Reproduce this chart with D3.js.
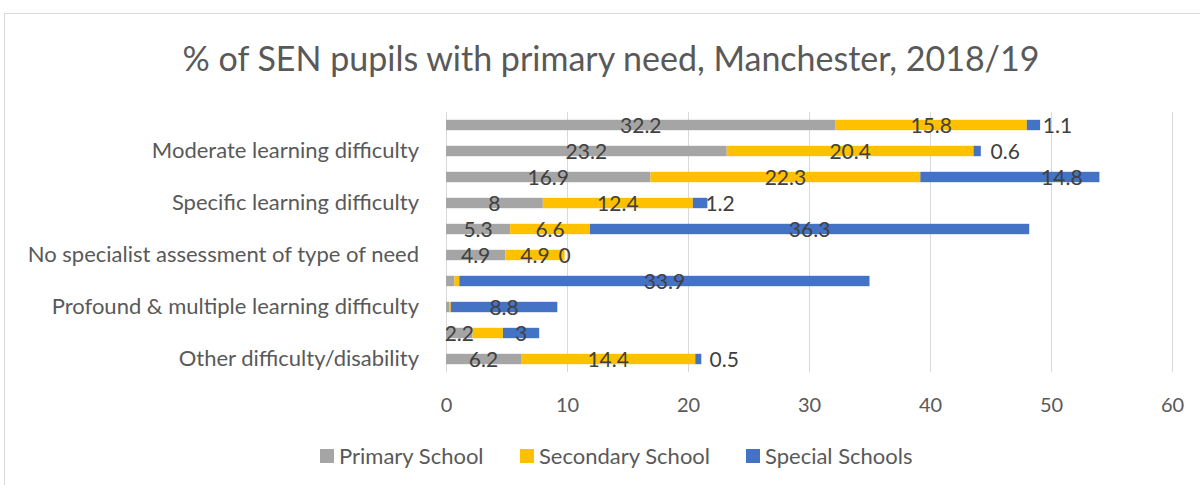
<!DOCTYPE html>
<html>
<head>
<meta charset="utf-8">
<script src="https://cdn.jsdelivr.net/npm/d3@7"></script>
<style>
  html, body { margin: 0; padding: 0; background: #fff; }
  svg { display: block; font-family: Lato, "Open Sans", sans-serif; }
</style>
</head>
<body>
<svg id="chart" width="1200" height="485"></svg>
<script>
const categories = [
  "Speech, language and communication needs",
  "Moderate learning difficulty",
  "Social, emotional and mental health",
  "Specific learning difficulty",
  "Autistic spectrum disorder",
  "No specialist assessment of type of need",
  "Severe learning difficulty",
  "Profound & multiple learning difficulty",
  "Physical disability",
  "Other difficulty/disability"
];
const seriesNames = ["Primary School", "Secondary School", "Special Schools"];
const seriesColors = ["#a5a5a5", "#ffc000", "#4472c4"];

const primary   = [32.2, 23.2, 16.9, 8,    5.3, 4.9, 0.7,  0.3, 2.2, 6.2];
const secondary = [15.8, 20.4, 22.3, 12.4, 6.6, 4.9, 0.4,  0.1, 2.5, 14.4];
const special   = [1.1,  0.6,  14.8, 1.2, 36.3, 0,   33.9, 8.8, 3,   0.5];

// which labels the original chart shows (true = shown)
const showPrimary   = [true, true, true, true, true, true, false, false, true, true];
const showSecondary = [true, true, true, true, true, true, false, false, false, true];
const showSpecial   = [true, true, true, true, true, true, true, true, true, true];

const xTicks = [0, 10, 20, 30, 40, 50, 60];

const svg = d3.select("#chart");
const M = { top: 112, left: 446, right: 28, bottom: 113 };
const W = 1172 - M.left;
const H = 260;

// chart frame
svg.append("rect")
  .attr("x", 4.5).attr("y", 13.5)
  .attr("width", 1200).attr("height", 480)
  .attr("fill", "#fff").attr("stroke", "#d9d9d9");

svg.append("text")
  .attr("x", 611).attr("y", 71)
  .attr("text-anchor", "middle")
  .attr("fill", "#595959")
  .style("font-size", "34px")
  .text("% of SEN pupils with primary need, Manchester, 2018/19");

const g = svg.append("g").attr("transform", `translate(${M.left},${M.top})`);

const x = d3.scaleLinear().domain([0, 60]).range([0, W]);
const y = d3.scaleBand().domain(categories).range([0, H]).paddingInner(0.6).paddingOuter(0.3);

// gridlines
g.append("g").selectAll("line")
  .data(xTicks)
  .join("line")
  .attr("x1", d => x(d) + 0.5).attr("x2", d => x(d) + 0.5)
  .attr("y1", 0).attr("y2", H)
  .attr("stroke", "#d9d9d9").attr("stroke-width", 1);

// x tick labels
const xAxis = g.append("g")
  .attr("transform", `translate(0,${H})`)
  .call(d3.axisBottom(x).tickValues(xTicks).tickSize(0).tickPadding(26));
xAxis.select(".domain").remove();
xAxis.selectAll("text")
  .attr("fill", "#595959")
  .style("font-family", "Lato, sans-serif")
  .style("font-size", "20px");

// category labels, every other one like the original
const yAxis = g.append("g")
  .call(d3.axisLeft(y).tickSize(0).tickPadding(27)
    .tickFormat((d, i) => i % 2 === 1 ? d : ""));
yAxis.select(".domain").remove();
yAxis.selectAll("text")
  .attr("fill", "#595959")
  .style("font-family", "Lato, sans-serif")
  .style("font-size", "22px");

const values = [primary, secondary, special];
const shown = [showPrimary, showSecondary, showSpecial];

const stacked = [];
categories.forEach((c, i) => {
  let x0 = 0;
  values.forEach((vals, s) => {
    stacked.push({ cat: c, i, s, x0, x1: x0 + vals[i], v: vals[i], show: shown[s][i] });
    x0 += vals[i];
  });
});

g.append("g").selectAll("rect")
  .data(stacked)
  .join("rect")
  .attr("x", d => x(d.x0))
  .attr("y", d => y(d.cat))
  .attr("width", d => x(d.x1) - x(d.x0))
  .attr("height", y.bandwidth())
  .attr("fill", d => seriesColors[d.s]);

// manual label shifts (px) for the special-schools labels moved in the original
const labelShift = { 0: 24, 1: 28, 2: 52, 3: 20, 9: 26 };

g.append("g").selectAll("text")
  .data(stacked.filter(d => d.show))
  .join("text")
  .attr("x", d => (x(d.x0) + x(d.x1)) / 2 + (d.s === 2 ? (labelShift[d.i] || 0) : 0))
  .attr("y", d => y(d.cat) + y.bandwidth() / 2)
  .attr("dy", "0.36em")
  .attr("text-anchor", "middle")
  .attr("fill", "#404040")
  .style("font-size", "21px")
  .text(d => d.v);

// legend
const legendX = [320, 520, 746];
const lg = svg.append("g").attr("transform", "translate(0,456)");
seriesNames.forEach((n, i) => {
  lg.append("rect")
    .attr("x", legendX[i]).attr("y", -7)
    .attr("width", 14).attr("height", 14)
    .attr("fill", seriesColors[i]);
  lg.append("text")
    .attr("x", legendX[i] + 19).attr("y", 0)
    .attr("dy", "0.35em")
    .attr("fill", "#595959")
    .style("font-size", "22px")
    .text(n);
});
</script>
</body>
</html>
